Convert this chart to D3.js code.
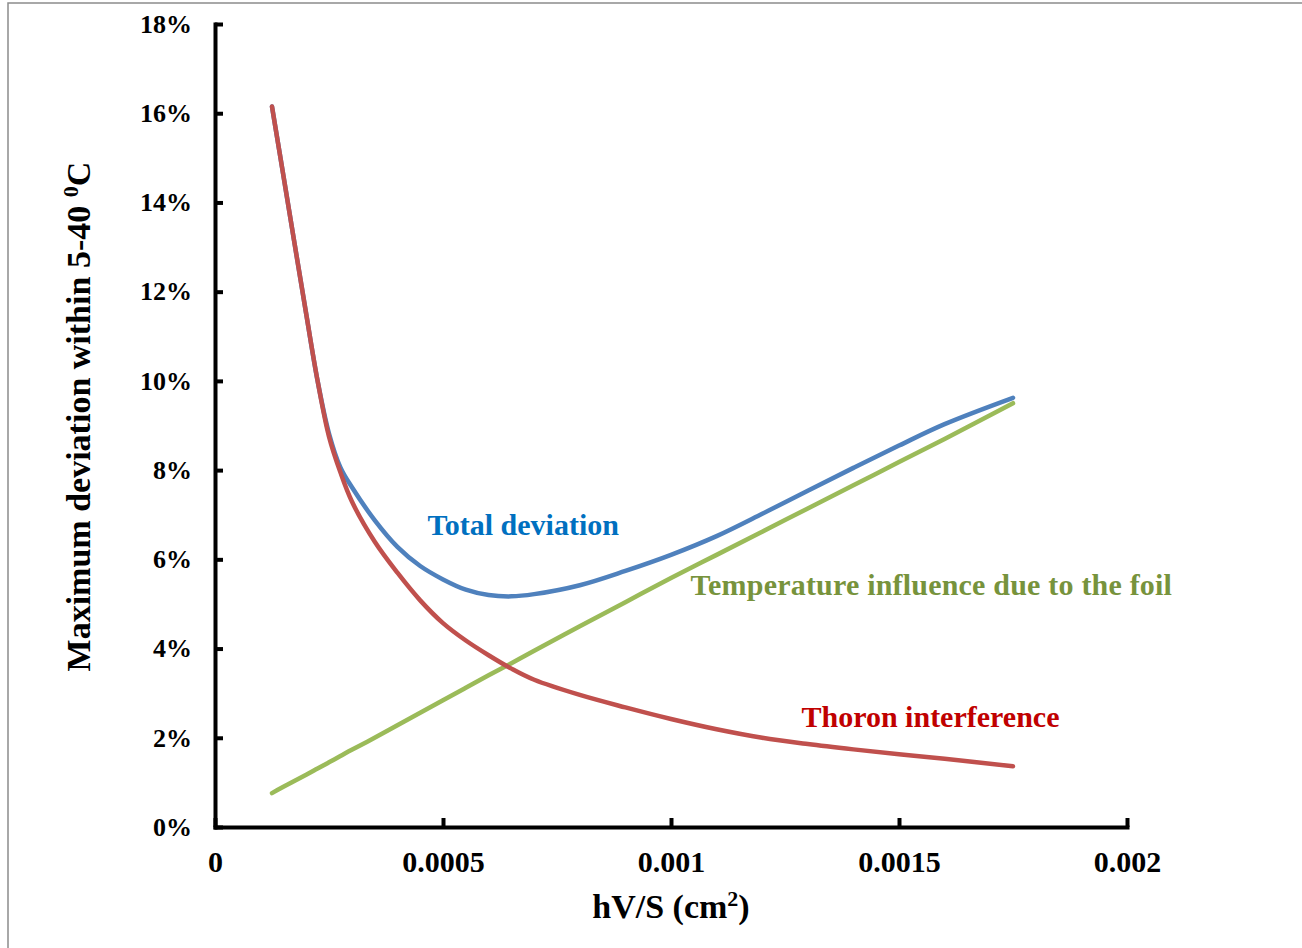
<!DOCTYPE html>
<html>
<head>
<meta charset="utf-8">
<script src="https://cdn.jsdelivr.net/npm/d3@7"></script>
<style>
  body { margin: 0; background: #fff; }
  text { font-family: "Liberation Serif", "Times New Roman", serif; font-weight: bold; }
</style>
</head>
<body>
<svg id="chart"></svg>
<script>
  // hV/S values (cm2)
  var hvs = [0.000125, 0.00015, 0.0002, 0.000225, 0.00025, 0.000275, 0.0003, 0.00035, 0.0004,
    0.00045, 0.0005, 0.00055, 0.0006, 0.00065, 0.0007, 0.0008, 0.0009, 0.001, 0.0011,
    0.0012, 0.0013, 0.0014, 0.0015, 0.0016, 0.00175];

  // deviations, in %
  var total = [16.15, 14.6, 11.5, 10.0, 8.82, 8.06, 7.62, 6.88, 6.28, 5.85, 5.55, 5.32,
    5.2, 5.17, 5.22, 5.42, 5.74, 6.1, 6.52, 7.02, 7.54, 8.05, 8.55, 9.03, 9.62];
  var thoron = [16.15, 14.6, 11.5, 10.0, 8.75, 7.95, 7.3, 6.4, 5.7, 5.08, 4.57, 4.18,
    3.85, 3.55, 3.3, 2.96, 2.68, 2.42, 2.19, 2.0, 1.86, 1.74, 1.63, 1.53, 1.36];
  var foil = [0.76, 0.9, 1.17, 1.31, 1.45, 1.59, 1.73, 2.0, 2.28, 2.56, 2.84, 3.12, 3.4,
    3.67, 3.95, 4.5, 5.04, 5.58, 6.1, 6.62, 7.14, 7.66, 8.18, 8.7, 9.5];

  var xTicks = [0, 0.0005, 0.001, 0.0015, 0.002];
  var yTicks = [0, 2, 4, 6, 8, 10, 12, 14, 16, 18];

  // series labels: text, anchor x (cm2), anchor y (%)
  var labelText = ["Total deviation", "Temperature influence due to the foil", "Thoron interference"];
  var labelX = [0.000676, 0.001571, 0.001569];
  var labelY = [6.55, 5.2, 2.24];

  var w = 1302;
  var h = 948;
  var margin = {
    top: 24,
    bottom: 121,
    left: 215,
    right: 175
  }

  var svg = d3.select("#chart")
    .attr("width", w)
    .attr("height", h);

  svg.append("rect")
    .attr("x", 8)
    .attr("y", 3)
    .attr("width", w + 10)
    .attr("height", h + 10)
    .attr("fill", "none")
    .attr("stroke", "#8c8c8c")
    .attr("stroke-width", 1.5);

  var xScale = d3.scaleLinear()
    .domain([0, 0.002])
    .range([margin.left, w - margin.right]);

  var yScale = d3.scaleLinear()
    .domain([0, 18])
    .range([h - margin.bottom, margin.top]);

  var line = function(vals) {
    return d3.line()
      .x(function(d, i){ return xScale(hvs[i]); })
      .y(function(d){ return yScale(d); })
      .curve(d3.curveCatmullRom.alpha(0.5))(vals);
  }

  var series = [
    { vals: foil, color: "#9bbb59" },
    { vals: total, color: "#4f81bd" },
    { vals: thoron, color: "#c0504d" }
  ];

  svg.selectAll("path.series")
    .data(series)
    .enter()
    .append("path")
    .attr("class", "series")
    .attr("d", function(d){ return line(d.vals); })
    .attr("fill", "none")
    .attr("stroke", function(d){ return d.color; })
    .attr("stroke-width", 4.5)
    .attr("stroke-linecap", "round")
    .attr("stroke-linejoin", "round");

  var xAxis = d3.axisBottom(xScale)
    .tickValues(xTicks)
    .tickFormat(function(d){ return d === 0 ? "0" : String(d); })
    .tickSizeInner(-9)
    .tickSizeOuter(0)
    .tickPadding(24);

  var yAxis = d3.axisLeft(yScale)
    .tickValues(yTicks)
    .tickFormat(function(d){ return d + "%"; })
    .tickSizeInner(-8)
    .tickSizeOuter(0)
    .tickPadding(23);

  var gx = svg.append("g")
    .attr("class", "axis")
    .attr("transform", "translate(0," + (h - margin.bottom) + ")")
    .call(xAxis);

  var gy = svg.append("g")
    .attr("class", "axis")
    .attr("transform", "translate(" + margin.left + ",0)")
    .call(yAxis);

  svg.selectAll(".axis path.domain")
    .attr("stroke", "#000")
    .attr("stroke-width", 4)
    .attr("stroke-linecap", "square");
  svg.selectAll(".axis .tick line")
    .attr("stroke", "#000")
    .attr("stroke-width", 4);
  svg.selectAll(".axis text")
    .attr("fill", "#000")
    .attr("font-family", "Liberation Serif")
    .attr("font-weight", "bold");
  gx.selectAll("text").attr("font-size", 30);
  gy.selectAll("text").attr("font-size", 26);

  // axis titles
  var xt = svg.append("text")
    .attr("x", xScale(0.001))
    .attr("y", 918)
    .attr("text-anchor", "middle")
    .attr("font-size", 34)
    .attr("fill", "#000");
  xt.append("tspan").text("hV/S (cm");
  xt.append("tspan").attr("font-size", 22).attr("dy", -12).text("2");
  xt.append("tspan").attr("dy", 12).text(")");

  var yt = svg.append("text")
    .attr("transform", "translate(90," + yScale(9.2) + ") rotate(-90)")
    .attr("text-anchor", "middle")
    .attr("font-size", 34)
    .attr("fill", "#000");
  yt.append("tspan").text("Maximum deviation within 5-40 ");
  yt.append("tspan").attr("font-size", 22).attr("dy", -12).text("0");
  yt.append("tspan").attr("dy", 12).text("C");

  var labelColors = ["#0070c0", "#77933c", "#c00000"];
  svg.selectAll("text.label")
    .data(labelText)
    .enter()
    .append("text")
    .attr("class", "label")
    .attr("x", function(d, i){ return xScale(labelX[i]); })
    .attr("y", function(d, i){ return yScale(labelY[i]); })
    .attr("text-anchor", "middle")
    .attr("font-size", 30)
    .attr("letter-spacing", function(d, i){ return i === 1 ? 0.2 : 0; })
    .attr("fill", function(d, i){ return labelColors[i]; })
    .text(function(d){ return d; });
</script>
</body>
</html>
